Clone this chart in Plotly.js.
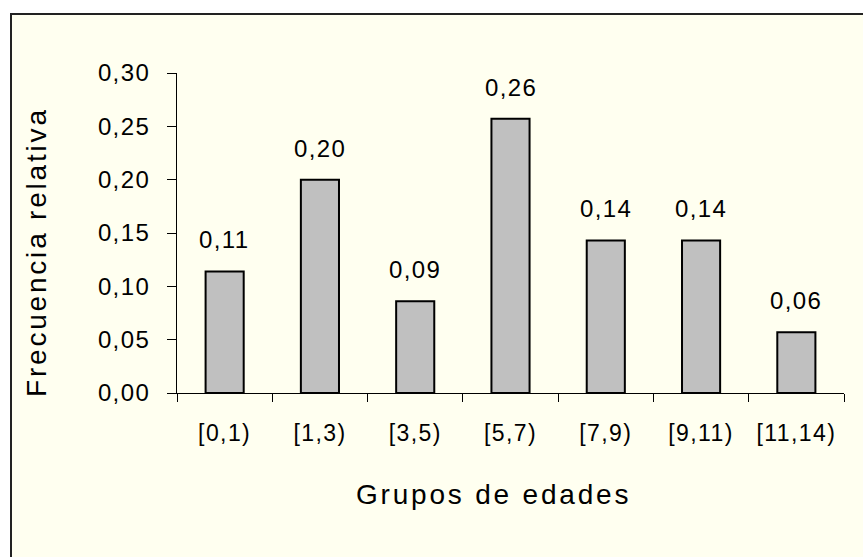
<!DOCTYPE html>
<html>
<head>
<meta charset="utf-8">
<script src="https://cdn.plot.ly/plotly-3.0.1.min.js"></script>
<style>
  html, body { margin: 0; padding: 0; background: #ffffff; }
  #chart { width: 863px; height: 557px; }
  svg text { letter-spacing: 1.4px; }
  svg text[style*="font-size: 28px"] { letter-spacing: 2.8px; }
</style>
</head>
<body>
<div id="chart"></div>
<script>
const categories = ['[0,1)', '[1,3)', '[3,5)', '[5,7)', '[7,9)', '[9,11)', '[11,14)'];
const relFreq = [0.114, 0.200, 0.086, 0.257, 0.143, 0.143, 0.057];
const yTickVals = [0, 0.05, 0.10, 0.15, 0.20, 0.25, 0.30];
const yTickText = ['0,00', '0,05', '0,10', '0,15', '0,20', '0,25', '0,30'];
const xTitle = 'Grupos de edades';
const yTitle = 'Frecuencia relativa';

const FONT = 'Liberation Sans, Arial, sans-serif';

const trace = {
  type: 'bar',
  x: categories,
  y: relFreq,
  marker: { color: '#C0C0C0', line: { color: '#000000', width: 2 } },
  hoverinfo: 'skip'
};

const annotations = categories.map((c, i) => ({
  x: c, y: relFreq[i], xref: 'x', yref: 'y',
  text: relFreq[i].toFixed(2).replace('.', ','),
  showarrow: false, yanchor: 'bottom', yshift: 16,
  font: { family: FONT, size: 24, color: '#000000' }
}));

// axis titles (positioned as in the reference, slightly off-centre)
annotations.push({
  xref: 'paper', yref: 'paper', x: (493 - 177) / 667, y: (393 - 494) / 320,
  xanchor: 'center', yanchor: 'middle', showarrow: false,
  text: xTitle, font: { family: FONT, size: 28, color: '#000000' }
});
annotations.push({
  xref: 'paper', yref: 'paper', x: (36 - 177) / 667, y: (393 - 252) / 320,
  xanchor: 'center', yanchor: 'middle', showarrow: false, textangle: -90,
  text: yTitle, font: { family: FONT, size: 28, color: '#000000' }
});

const layout = {
  width: 863, height: 557,
  margin: { l: 177, r: 19, t: 73, b: 164 },
  paper_bgcolor: '#ffffff',
  plot_bgcolor: 'rgba(0,0,0,0)',
  separators: ',.',
  showlegend: false,
  bargap: 0.6,
  font: { family: FONT, size: 24, color: '#000000' },
  xaxis: {
    type: 'category',
    showline: true, linecolor: '#000000', linewidth: 1,
    ticks: 'outside', tickson: 'boundaries', ticklen: 8, tickcolor: '#000000', tickwidth: 1,
    ticklabelstandoff: 19,
    tickfont: { family: FONT, size: 23, color: '#000000' },
    showgrid: false, zeroline: false, fixedrange: true
  },
  yaxis: {
    range: [0, 0.30],
    tickvals: yTickVals, ticktext: yTickText,
    showline: true, linecolor: '#000000', linewidth: 1,
    ticks: 'outside', ticklen: 9, tickcolor: '#000000', tickwidth: 1,
    ticklabelstandoff: 12,
    tickfont: { family: FONT, size: 24, color: '#000000' },
    showgrid: false, zeroline: false, fixedrange: true
  },
  shapes: [{
    type: 'rect', xref: 'paper', yref: 'paper', layer: 'below',
    x0: (11 - 177) / 667, x1: 1.5, y0: -1, y1: (393 - 14) / 320,
    fillcolor: '#FFFFF0', line: { color: '#222222', width: 2 }
  }],
  annotations: annotations
};

Plotly.newPlot('chart', [trace], layout, { displayModeBar: false, staticPlot: true });
</script>
</body>
</html>
